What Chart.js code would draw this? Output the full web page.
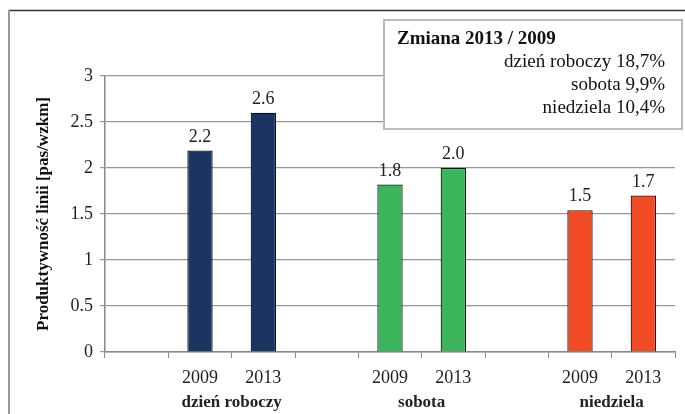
<!DOCTYPE html>
<html lang="pl">
<head>
<meta charset="utf-8">
<title>Produktywność linii</title>
<script src="https://cdn.jsdelivr.net/npm/chart.js@4/dist/chart.umd.min.js"></script>
<style>
  html, body { margin: 0; padding: 0; background: #fff; }
  #wrap { width: 685px; height: 414px; position: relative; }
</style>
</head>
<body>
<div id="wrap"><canvas id="prodChart"></canvas></div>
<script>
// ── DATA ──
const groups = ['dzień roboczy', 'sobota', 'niedziela'];
const years = ['2009', '2013'];
const values2009 = [2.19, 1.82, 1.54];
const values2013 = [2.6, 2.0, 1.7];
const groupColors = ['#1b3461', '#3bb45c', '#f04b24'];
const yTicks = { min: 0, max: 3, step: 0.5 };

// every group gets an empty slot in front of its two bars
const labels = [];
const values = [];
const colors = [];
groups.forEach((g, i) => {
    labels.push('', years[0], years[1]);
    values.push(null, values2009[i], values2013[i]);
    colors.push('#fff', groupColors[i], groupColors[i]);
});

const pct = (a, b) => ((b / a - 1) * 100).toFixed(1).replace('.', ',') + '%';
const changeLines = groups.map((g, i) => g + ' ' + pct(values2009[i], values2013[i]));

const SERIF = "'Liberation Serif', 'Times New Roman', serif";
Chart.defaults.font.family = SERIF;
Chart.defaults.color = '#222';

// outer frame, drawn first
const framePlugin = {
    id: 'frame',
    beforeDraw(chart) {
        const c = chart.ctx;
        c.save();
        c.fillStyle = '#fff';
        c.fillRect(0, 0, chart.width, chart.height);
        c.strokeStyle = '#333';
        c.lineWidth = 1.5;
        c.beginPath();
        c.moveTo(8, 10.5);
        c.lineTo(chart.width, 10.5);
        c.stroke();
        c.strokeStyle = '#999';
        c.lineWidth = 2;
        c.beginPath();
        c.moveTo(9, 10);
        c.lineTo(9, chart.height);
        c.stroke();
        c.restore();
    }
};

// value labels above bars + group names under the years + change box
const annotPlugin = {
    id: 'annot',
    afterDatasetsDraw(chart) {
        const c = chart.ctx;
        const meta = chart.getDatasetMeta(0);
        const x = chart.scales.x;
        c.save();
        c.fillStyle = '#222';
        c.textAlign = 'center';
        c.textBaseline = 'alphabetic';
        c.font = '18px ' + SERIF;
        meta.data.forEach((bar, i) => {
            const v = values[i];
            if (v == null) return;
            c.fillText(v.toFixed(1), bar.x, bar.y - 9);
        });

        c.font = 'bold 17px ' + SERIF;
        c.textBaseline = 'middle';
        groups.forEach((g, i) => {
            const cx = (x.getPixelForValue(i * 3 + 1) + x.getPixelForValue(i * 3 + 2)) / 2;
            c.fillText(g, cx, 403);
        });

        // change box
        c.fillStyle = '#fff';
        c.fillRect(383, 19, 300, 111);
        c.strokeStyle = '#bbb';
        c.lineWidth = 2;
        c.strokeRect(384, 20, 298, 109);
        c.fillStyle = '#111';
        c.textAlign = 'left';
        c.font = 'bold 19px ' + SERIF;
        c.fillText('Zmiana ' + years[1] + ' / ' + years[0], 397, 39);
        c.textAlign = 'right';
        c.font = '19px ' + SERIF;
        changeLines.forEach((t, i) => c.fillText(t, 665, 62 + i * 23));
        c.restore();
    }
};

new Chart(document.getElementById('prodChart'), {
    type: 'bar',
    data: {
        labels: labels,
        datasets: [{
            data: values,
            backgroundColor: colors,
            borderColor: '#111',
            borderWidth: 1.2,
            borderSkipped: 'bottom',
            barPercentage: 0.4,
            categoryPercentage: 1
        }]
    },
    options: {
        responsive: true,
        maintainAspectRatio: false,
        animation: false,
        layout: { padding: { left: 30, right: 10, top: 76, bottom: 0 } },
        plugins: { legend: { display: false }, tooltip: { enabled: false } },
        scales: {
            x: {
                afterFit: (s) => { s.height = 62; },
                grid: { display: true, drawOnChartArea: false, drawTicks: true, tickLength: 6, color: '#888', offset: true },
                border: { color: '#888', width: 1.5 },
                ticks: { font: { size: 18 }, color: '#222', padding: 9, maxRotation: 0, autoSkip: false }
            },
            y: {
                min: yTicks.min,
                max: yTicks.max,
                afterFit: (s) => { s.width = 75; },
                grid: { color: '#999', lineWidth: 1.2, tickLength: 5 },
                border: { color: '#888', width: 1.5 },
                ticks: {
                    stepSize: yTicks.step,
                    font: { size: 18 },
                    color: '#222',
                    padding: 7,
                    callback: (v) => String(v)
                },
                title: {
                    display: true,
                    text: 'Produktywność linii [pas/wzkm]',
                    font: { size: 17, weight: 'bold' },
                    color: '#111',
                    padding: { top: 3, bottom: 0 }
                }
            }
        }
    },
    plugins: [framePlugin, annotPlugin]
});
</script>
</body>
</html>
